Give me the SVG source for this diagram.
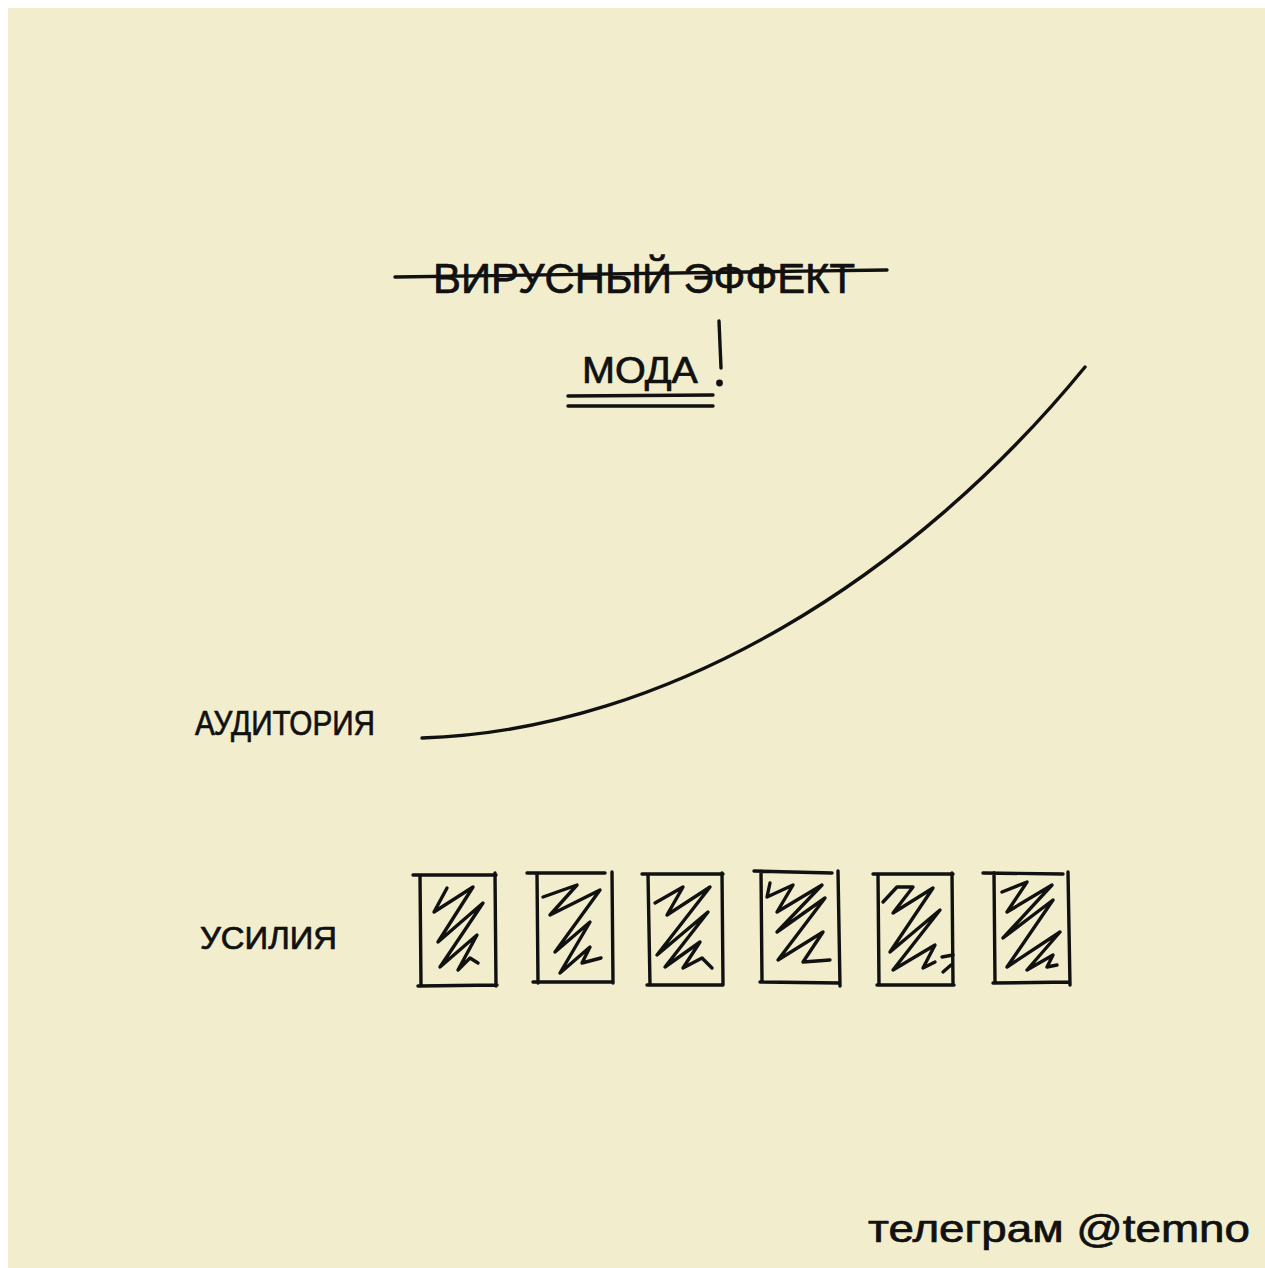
<svg xmlns="http://www.w3.org/2000/svg" width="1265" height="1268" viewBox="0 0 1265 1268">
<style>
.ink{fill:none;stroke:#111;stroke-width:3.4;stroke-linecap:round;stroke-linejoin:round}
.hand{font-family:"Liberation Sans","DejaVu Sans",sans-serif;fill:#111;stroke:#111;stroke-width:0.7;stroke-linejoin:round}
</style>
<rect x="0" y="0" width="1265" height="1268" fill="#ffffff"/>
<rect x="8" y="8" width="1257" height="1260" fill="#f2edcc"/>
<g id="title-old">
<text class="hand" x="433" y="293" font-size="42" textLength="422" lengthAdjust="spacingAndGlyphs">ВИРУСНЫЙ ЭФФЕКТ</text>
<path class="ink" d="M395,277 C550,276 720,272 887,270"/>
</g>
<g id="title-new">
<text class="hand" x="582" y="383" font-size="36" textLength="116" lengthAdjust="spacingAndGlyphs">МОДА</text>
<path class="ink" d="M719,321 L721,368"/>
<circle cx="719.5" cy="383" r="3.4" fill="#111"/>
<path class="ink" d="M568,396 L713,395"/>
<path class="ink" d="M568,406 L713,406"/>
</g>
<g id="label-audience">
<text class="hand" x="195" y="735" font-size="35" textLength="180" lengthAdjust="spacingAndGlyphs">АУДИТОРИЯ</text>
</g>
<g id="label-effort">
<text class="hand" x="200" y="949" font-size="31" textLength="137" lengthAdjust="spacingAndGlyphs">УСИЛИЯ</text>
</g>
<g id="connectors">
<path id="curve" class="ink" d="M422,738 C670,730 915,575 1085,367"/>
</g>
<g id="box1">
<path class="ink" d="M413,875 L496,875 M420,875 L421,986 M495,873 L496,986 M418,986 L497,985"/>
<polyline class="ink" points="447,888 434,912 473,887 438,942 483,903 440,967 477,935 458,970 470,958 478,963"/>
</g>
<g id="box2">
<path class="ink" d="M527,873 L605,873 M537,873 L538,983 M612,872 L613,983 M533,982 L613,982"/>
<polyline class="ink" points="543,897 577,885 550,915 600,890 555,952 590,922 560,973 590,947 582,963 601,958"/>
</g>
<g id="box3">
<path class="ink" d="M642,874 L723,874 M648,874 L650,985 M722,873 L723,985 M647,985 L722,985"/>
<polyline class="ink" points="655,903 683,887 667,915 710,887 657,955 708,912 665,967 700,942 683,968 702,958 712,968"/>
</g>
<g id="box4">
<path class="ink" d="M754,871 L832,873 M761,871 L762,982 M838,871 L840,986 M760,982 L840,983"/>
<polyline class="ink" points="770,883 767,897 793,885 777,912 822,885 777,932 825,898 778,960 823,932 803,962 830,960"/>
</g>
<g id="box5">
<path class="ink" d="M873,874 L953,874 M878,874 L879,985 M952,873 L953,985 M877,985 L954,985"/>
<polyline class="ink" points="883,902 897,887 913,887 893,913 933,888 890,952 940,910 893,970 935,945 923,968 935,962"/>
<path class="ink" d="M942,957 L953,955 M943,972 L951,965"/>
</g>
<g id="box6">
<path class="ink" d="M983,873 L1063,874 M994,873 L995,983 M1068,872 L1070,985 M993,983 L1070,982"/>
<polyline class="ink" points="1002,892 1027,882 1007,912 1052,885 1003,938 1053,900 1007,967 1060,932 1027,970 1053,955 1047,967 1057,965"/>
</g>
<g id="footer">
<text class="hand" x="868" y="1242" font-size="38" textLength="382" lengthAdjust="spacingAndGlyphs">телеграм @temno</text>
</g>
</svg>
